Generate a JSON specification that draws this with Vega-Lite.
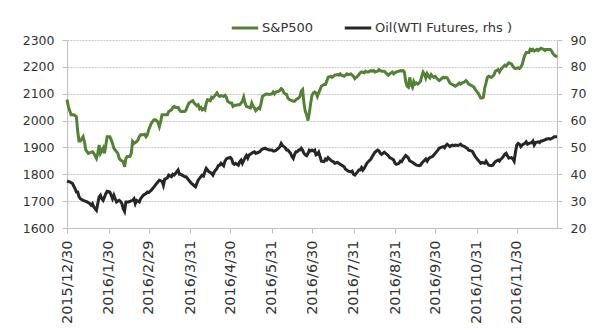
{
  "$schema": "https://vega.github.io/schema/vega-lite/v6.json",
  "width": 490,
  "height": 188,
  "autosize": {"type": "none"},
  "padding": {"left": 67, "top": 40, "right": 45, "bottom": 104},
  "config": {
    "view": {"stroke": null},
    "font": "DejaVu Sans",
    "axis": {
      "domainColor": "#bfbfbf",
      "tickColor": "#bfbfbf",
      "tickSize": 5,
      "labelColor": "#333333",
      "labelFont": "DejaVu Sans",
      "labelFontSize": 12.5,
      "title": null,
      "labelPadding": 4
    }
  },
  "datasets": {
    "spx": [
      {"date": "2015/12/30", "value": 2078}, {"date": "2015/12/31", "value": 2053}, {"date": "2016/1/2", "value": 2022}, {"date": "2016/1/4", "value": 2022}, {"date": "2016/1/6", "value": 2015}, {"date": "2016/1/7", "value": 1959}, {"date": "2016/1/8", "value": 1924}, {"date": "2016/1/9", "value": 1924}, {"date": "2016/1/11", "value": 1940}, {"date": "2016/1/12", "value": 1922}, {"date": "2016/1/13", "value": 1891}, {"date": "2016/1/15", "value": 1878}, {"date": "2016/1/18", "value": 1884}, {"date": "2016/1/19", "value": 1878}, {"date": "2016/1/21", "value": 1859}, {"date": "2016/1/22", "value": 1878}, {"date": "2016/1/23", "value": 1909}, {"date": "2016/1/24", "value": 1878}, {"date": "2016/1/26", "value": 1897}, {"date": "2016/1/27", "value": 1878}, {"date": "2016/1/28", "value": 1909}, {"date": "2016/1/29", "value": 1940}, {"date": "2016/1/31", "value": 1940},
      {"date": "2016/2/1", "value": 1928}, {"date": "2016/2/2", "value": 1915}, {"date": "2016/2/3", "value": 1897}, {"date": "2016/2/5", "value": 1884}, {"date": "2016/2/6", "value": 1878}, {"date": "2016/2/7", "value": 1859}, {"date": "2016/2/8", "value": 1853}, {"date": "2016/2/10", "value": 1847}, {"date": "2016/2/11", "value": 1828}, {"date": "2016/2/12", "value": 1859}, {"date": "2016/2/13", "value": 1866}, {"date": "2016/2/15", "value": 1866}, {"date": "2016/2/16", "value": 1878}, {"date": "2016/2/17", "value": 1922}, {"date": "2016/2/18", "value": 1915}, {"date": "2016/2/20", "value": 1922}, {"date": "2016/2/21", "value": 1928}, {"date": "2016/2/22", "value": 1940}, {"date": "2016/2/23", "value": 1947}, {"date": "2016/2/25", "value": 1947}, {"date": "2016/2/26", "value": 1949}, {"date": "2016/2/27", "value": 1940}, {"date": "2016/2/28", "value": 1947}, {"date": "2016/2/29", "value": 1965},
      {"date": "2016/3/2", "value": 1990}, {"date": "2016/3/3", "value": 1997}, {"date": "2016/3/4", "value": 2003}, {"date": "2016/3/5", "value": 2003}, {"date": "2016/3/7", "value": 1994}, {"date": "2016/3/8", "value": 1978}, {"date": "2016/3/9", "value": 1997}, {"date": "2016/3/10", "value": 2022}, {"date": "2016/3/12", "value": 2022}, {"date": "2016/3/13", "value": 2022}, {"date": "2016/3/14", "value": 2022}, {"date": "2016/3/15", "value": 2034}, {"date": "2016/3/17", "value": 2040}, {"date": "2016/3/18", "value": 2049}, {"date": "2016/3/19", "value": 2053}, {"date": "2016/3/20", "value": 2049}, {"date": "2016/3/22", "value": 2049}, {"date": "2016/3/23", "value": 2040}, {"date": "2016/3/24", "value": 2034}, {"date": "2016/3/25", "value": 2034}, {"date": "2016/3/27", "value": 2034}, {"date": "2016/3/28", "value": 2040}, {"date": "2016/3/29", "value": 2053}, {"date": "2016/3/30", "value": 2065},
      {"date": "2016/4/1", "value": 2072}, {"date": "2016/4/2", "value": 2074}, {"date": "2016/4/3", "value": 2065}, {"date": "2016/4/5", "value": 2055}, {"date": "2016/4/6", "value": 2059}, {"date": "2016/4/7", "value": 2044}, {"date": "2016/4/8", "value": 2049}, {"date": "2016/4/9", "value": 2040}, {"date": "2016/4/10", "value": 2044}, {"date": "2016/4/11", "value": 2040}, {"date": "2016/4/12", "value": 2065}, {"date": "2016/4/13", "value": 2078}, {"date": "2016/4/15", "value": 2074}, {"date": "2016/4/16", "value": 2087}, {"date": "2016/4/17", "value": 2084}, {"date": "2016/4/18", "value": 2090}, {"date": "2016/4/20", "value": 2103}, {"date": "2016/4/21", "value": 2094}, {"date": "2016/4/22", "value": 2090}, {"date": "2016/4/23", "value": 2093}, {"date": "2016/4/25", "value": 2090}, {"date": "2016/4/26", "value": 2094}, {"date": "2016/4/27", "value": 2087}, {"date": "2016/4/28", "value": 2072}, {"date": "2016/4/30", "value": 2065},
      {"date": "2016/5/1", "value": 2065}, {"date": "2016/5/2", "value": 2053}, {"date": "2016/5/3", "value": 2057}, {"date": "2016/5/4", "value": 2057}, {"date": "2016/5/6", "value": 2059}, {"date": "2016/5/7", "value": 2059}, {"date": "2016/5/8", "value": 2065}, {"date": "2016/5/9", "value": 2072}, {"date": "2016/5/10", "value": 2087}, {"date": "2016/5/11", "value": 2065}, {"date": "2016/5/12", "value": 2053}, {"date": "2016/5/14", "value": 2049}, {"date": "2016/5/15", "value": 2047}, {"date": "2016/5/16", "value": 2065}, {"date": "2016/5/17", "value": 2053}, {"date": "2016/5/18", "value": 2047}, {"date": "2016/5/19", "value": 2037}, {"date": "2016/5/21", "value": 2047}, {"date": "2016/5/22", "value": 2044}, {"date": "2016/5/23", "value": 2065}, {"date": "2016/5/24", "value": 2090}, {"date": "2016/5/26", "value": 2097}, {"date": "2016/5/27", "value": 2099}, {"date": "2016/5/28", "value": 2099}, {"date": "2016/5/29", "value": 2097}, {"date": "2016/5/31", "value": 2099},
      {"date": "2016/6/1", "value": 2106}, {"date": "2016/6/2", "value": 2099}, {"date": "2016/6/3", "value": 2106}, {"date": "2016/6/5", "value": 2109}, {"date": "2016/6/6", "value": 2112}, {"date": "2016/6/7", "value": 2119}, {"date": "2016/6/8", "value": 2115}, {"date": "2016/6/9", "value": 2103}, {"date": "2016/6/10", "value": 2099}, {"date": "2016/6/11", "value": 2097}, {"date": "2016/6/12", "value": 2084}, {"date": "2016/6/13", "value": 2078}, {"date": "2016/6/15", "value": 2074}, {"date": "2016/6/16", "value": 2072}, {"date": "2016/6/17", "value": 2072}, {"date": "2016/6/18", "value": 2078}, {"date": "2016/6/20", "value": 2084}, {"date": "2016/6/21", "value": 2090}, {"date": "2016/6/22", "value": 2109}, {"date": "2016/6/23", "value": 2115}, {"date": "2016/6/24", "value": 2065}, {"date": "2016/6/25", "value": 2034}, {"date": "2016/6/26", "value": 2022}, {"date": "2016/6/27", "value": 2000}, {"date": "2016/6/28", "value": 2028}, {"date": "2016/6/29", "value": 2065}, {"date": "2016/6/30", "value": 2094},
      {"date": "2016/7/1", "value": 2103}, {"date": "2016/7/2", "value": 2106}, {"date": "2016/7/3", "value": 2103}, {"date": "2016/7/4", "value": 2090}, {"date": "2016/7/5", "value": 2103}, {"date": "2016/7/6", "value": 2115}, {"date": "2016/7/7", "value": 2128}, {"date": "2016/7/9", "value": 2134}, {"date": "2016/7/10", "value": 2134}, {"date": "2016/7/11", "value": 2146}, {"date": "2016/7/12", "value": 2161}, {"date": "2016/7/14", "value": 2165}, {"date": "2016/7/15", "value": 2161}, {"date": "2016/7/16", "value": 2165}, {"date": "2016/7/17", "value": 2169}, {"date": "2016/7/19", "value": 2171}, {"date": "2016/7/20", "value": 2169}, {"date": "2016/7/21", "value": 2174}, {"date": "2016/7/22", "value": 2169}, {"date": "2016/7/24", "value": 2165}, {"date": "2016/7/25", "value": 2169}, {"date": "2016/7/26", "value": 2174}, {"date": "2016/7/27", "value": 2171}, {"date": "2016/7/29", "value": 2174}, {"date": "2016/7/30", "value": 2169}, {"date": "2016/7/31", "value": 2165},
      {"date": "2016/8/1", "value": 2156}, {"date": "2016/8/3", "value": 2165}, {"date": "2016/8/4", "value": 2171}, {"date": "2016/8/5", "value": 2178}, {"date": "2016/8/6", "value": 2181}, {"date": "2016/8/8", "value": 2178}, {"date": "2016/8/9", "value": 2184}, {"date": "2016/8/10", "value": 2181}, {"date": "2016/8/11", "value": 2181}, {"date": "2016/8/13", "value": 2186}, {"date": "2016/8/14", "value": 2184}, {"date": "2016/8/15", "value": 2186}, {"date": "2016/8/16", "value": 2181}, {"date": "2016/8/18", "value": 2184}, {"date": "2016/8/19", "value": 2190}, {"date": "2016/8/20", "value": 2186}, {"date": "2016/8/21", "value": 2184}, {"date": "2016/8/23", "value": 2184}, {"date": "2016/8/24", "value": 2178}, {"date": "2016/8/25", "value": 2174}, {"date": "2016/8/26", "value": 2169}, {"date": "2016/8/27", "value": 2174}, {"date": "2016/8/29", "value": 2181}, {"date": "2016/8/30", "value": 2174}, {"date": "2016/8/31", "value": 2178},
      {"date": "2016/9/1", "value": 2181}, {"date": "2016/9/3", "value": 2184}, {"date": "2016/9/4", "value": 2186}, {"date": "2016/9/5", "value": 2184}, {"date": "2016/9/6", "value": 2186}, {"date": "2016/9/7", "value": 2181}, {"date": "2016/9/8", "value": 2146}, {"date": "2016/9/9", "value": 2128}, {"date": "2016/9/10", "value": 2124}, {"date": "2016/9/11", "value": 2161}, {"date": "2016/9/12", "value": 2134}, {"date": "2016/9/13", "value": 2124}, {"date": "2016/9/14", "value": 2146}, {"date": "2016/9/15", "value": 2136}, {"date": "2016/9/16", "value": 2140}, {"date": "2016/9/17", "value": 2136}, {"date": "2016/9/18", "value": 2140}, {"date": "2016/9/19", "value": 2146}, {"date": "2016/9/20", "value": 2165}, {"date": "2016/9/21", "value": 2181}, {"date": "2016/9/22", "value": 2174}, {"date": "2016/9/23", "value": 2159}, {"date": "2016/9/24", "value": 2174}, {"date": "2016/9/25", "value": 2165}, {"date": "2016/9/26", "value": 2159}, {"date": "2016/9/27", "value": 2171}, {"date": "2016/9/28", "value": 2165}, {"date": "2016/9/29", "value": 2161}, {"date": "2016/9/30", "value": 2165},
      {"date": "2016/10/1", "value": 2159}, {"date": "2016/10/2", "value": 2153}, {"date": "2016/10/3", "value": 2149}, {"date": "2016/10/4", "value": 2153}, {"date": "2016/10/6", "value": 2161}, {"date": "2016/10/7", "value": 2159}, {"date": "2016/10/8", "value": 2161}, {"date": "2016/10/9", "value": 2159}, {"date": "2016/10/11", "value": 2140}, {"date": "2016/10/12", "value": 2136}, {"date": "2016/10/13", "value": 2134}, {"date": "2016/10/14", "value": 2131}, {"date": "2016/10/15", "value": 2128}, {"date": "2016/10/17", "value": 2134}, {"date": "2016/10/18", "value": 2140}, {"date": "2016/10/19", "value": 2136}, {"date": "2016/10/20", "value": 2140}, {"date": "2016/10/22", "value": 2144}, {"date": "2016/10/23", "value": 2149}, {"date": "2016/10/24", "value": 2144}, {"date": "2016/10/25", "value": 2136}, {"date": "2016/10/27", "value": 2131}, {"date": "2016/10/28", "value": 2128}, {"date": "2016/10/29", "value": 2124}, {"date": "2016/10/30", "value": 2115},
      {"date": "2016/11/1", "value": 2103}, {"date": "2016/11/2", "value": 2094}, {"date": "2016/11/3", "value": 2084}, {"date": "2016/11/4", "value": 2084}, {"date": "2016/11/5", "value": 2087}, {"date": "2016/11/6", "value": 2121}, {"date": "2016/11/7", "value": 2140}, {"date": "2016/11/8", "value": 2161}, {"date": "2016/11/9", "value": 2165}, {"date": "2016/11/11", "value": 2161}, {"date": "2016/11/12", "value": 2165}, {"date": "2016/11/13", "value": 2171}, {"date": "2016/11/14", "value": 2184}, {"date": "2016/11/16", "value": 2190}, {"date": "2016/11/17", "value": 2181}, {"date": "2016/11/18", "value": 2190}, {"date": "2016/11/19", "value": 2196}, {"date": "2016/11/21", "value": 2206}, {"date": "2016/11/22", "value": 2203}, {"date": "2016/11/23", "value": 2209}, {"date": "2016/11/24", "value": 2215}, {"date": "2016/11/26", "value": 2211}, {"date": "2016/11/27", "value": 2203}, {"date": "2016/11/28", "value": 2196}, {"date": "2016/11/29", "value": 2194},
      {"date": "2016/12/1", "value": 2196}, {"date": "2016/12/2", "value": 2194}, {"date": "2016/12/3", "value": 2199}, {"date": "2016/12/4", "value": 2209}, {"date": "2016/12/5", "value": 2228}, {"date": "2016/12/6", "value": 2244}, {"date": "2016/12/7", "value": 2253}, {"date": "2016/12/9", "value": 2253}, {"date": "2016/12/10", "value": 2265}, {"date": "2016/12/11", "value": 2261}, {"date": "2016/12/12", "value": 2265}, {"date": "2016/12/13", "value": 2259}, {"date": "2016/12/15", "value": 2265}, {"date": "2016/12/16", "value": 2261}, {"date": "2016/12/17", "value": 2265}, {"date": "2016/12/18", "value": 2269}, {"date": "2016/12/20", "value": 2265}, {"date": "2016/12/21", "value": 2261}, {"date": "2016/12/22", "value": 2265}, {"date": "2016/12/23", "value": 2265}, {"date": "2016/12/25", "value": 2265}, {"date": "2016/12/26", "value": 2259}, {"date": "2016/12/27", "value": 2249}, {"date": "2016/12/28", "value": 2244}, {"date": "2016/12/30", "value": 2236}
    ],
    "oil": [
      {"date": "2015/12/30", "value": 37.4}, {"date": "2016/1/1", "value": 37.2}, {"date": "2016/1/3", "value": 36.6}, {"date": "2016/1/5", "value": 34.7}, {"date": "2016/1/6", "value": 33.4}, {"date": "2016/1/7", "value": 33.4}, {"date": "2016/1/8", "value": 31.6}, {"date": "2016/1/9", "value": 30.9}, {"date": "2016/1/11", "value": 30.3}, {"date": "2016/1/13", "value": 29.9}, {"date": "2016/1/14", "value": 29.7}, {"date": "2016/1/16", "value": 29.1}, {"date": "2016/1/17", "value": 28.5}, {"date": "2016/1/18", "value": 29.1}, {"date": "2016/1/19", "value": 27.8}, {"date": "2016/1/21", "value": 26.6}, {"date": "2016/1/22", "value": 29.1}, {"date": "2016/1/23", "value": 31.6}, {"date": "2016/1/24", "value": 32.2}, {"date": "2016/1/25", "value": 30.9}, {"date": "2016/1/26", "value": 30.3}, {"date": "2016/1/28", "value": 32.8}, {"date": "2016/1/29", "value": 33.7}, {"date": "2016/1/31", "value": 33.4},
      {"date": "2016/2/1", "value": 32.2}, {"date": "2016/2/2", "value": 30.9}, {"date": "2016/2/3", "value": 32.2}, {"date": "2016/2/4", "value": 30.9}, {"date": "2016/2/5", "value": 29.7}, {"date": "2016/2/7", "value": 30.3}, {"date": "2016/2/8", "value": 29.9}, {"date": "2016/2/9", "value": 29.1}, {"date": "2016/2/10", "value": 27.2}, {"date": "2016/2/11", "value": 26.2}, {"date": "2016/2/12", "value": 29.7}, {"date": "2016/2/14", "value": 29.7}, {"date": "2016/2/15", "value": 29.9}, {"date": "2016/2/17", "value": 30.3}, {"date": "2016/2/18", "value": 30.9}, {"date": "2016/2/19", "value": 29.1}, {"date": "2016/2/20", "value": 30.3}, {"date": "2016/2/22", "value": 29.7}, {"date": "2016/2/23", "value": 30.9}, {"date": "2016/2/24", "value": 31.6}, {"date": "2016/2/25", "value": 32.2}, {"date": "2016/2/27", "value": 32.8}, {"date": "2016/2/28", "value": 33.4}, {"date": "2016/2/29", "value": 33.2},
      {"date": "2016/3/2", "value": 34.1}, {"date": "2016/3/3", "value": 34.7}, {"date": "2016/3/4", "value": 35.3}, {"date": "2016/3/6", "value": 36.6}, {"date": "2016/3/7", "value": 37.2}, {"date": "2016/3/8", "value": 37.8}, {"date": "2016/3/10", "value": 37.4}, {"date": "2016/3/11", "value": 35.9}, {"date": "2016/3/12", "value": 38.2}, {"date": "2016/3/13", "value": 38.4}, {"date": "2016/3/14", "value": 38.7}, {"date": "2016/3/15", "value": 39.7}, {"date": "2016/3/17", "value": 39.1}, {"date": "2016/3/18", "value": 40}, {"date": "2016/3/19", "value": 39.7}, {"date": "2016/3/20", "value": 40.3}, {"date": "2016/3/22", "value": 41.6}, {"date": "2016/3/23", "value": 40}, {"date": "2016/3/24", "value": 40}, {"date": "2016/3/25", "value": 39.7}, {"date": "2016/3/27", "value": 39.1}, {"date": "2016/3/28", "value": 39.1}, {"date": "2016/3/29", "value": 38.4}, {"date": "2016/3/30", "value": 37.8},
      {"date": "2016/4/1", "value": 36.6}, {"date": "2016/4/2", "value": 36.2}, {"date": "2016/4/3", "value": 35.7}, {"date": "2016/4/4", "value": 35.3}, {"date": "2016/4/5", "value": 36.6}, {"date": "2016/4/6", "value": 37.8}, {"date": "2016/4/8", "value": 39.1}, {"date": "2016/4/9", "value": 39.7}, {"date": "2016/4/10", "value": 39.4}, {"date": "2016/4/11", "value": 40.9}, {"date": "2016/4/12", "value": 42.2}, {"date": "2016/4/13", "value": 41.6}, {"date": "2016/4/14", "value": 40.9}, {"date": "2016/4/15", "value": 40.7}, {"date": "2016/4/16", "value": 40.3}, {"date": "2016/4/17", "value": 39.7}, {"date": "2016/4/18", "value": 40.9}, {"date": "2016/4/20", "value": 42.2}, {"date": "2016/4/21", "value": 43.2}, {"date": "2016/4/22", "value": 43.4}, {"date": "2016/4/23", "value": 44.1}, {"date": "2016/4/25", "value": 43.2}, {"date": "2016/4/26", "value": 44.9}, {"date": "2016/4/27", "value": 45.7}, {"date": "2016/4/28", "value": 46}, {"date": "2016/4/30", "value": 46.3},
      {"date": "2016/5/1", "value": 45.7}, {"date": "2016/5/2", "value": 44.1}, {"date": "2016/5/3", "value": 43.7}, {"date": "2016/5/4", "value": 44.1}, {"date": "2016/5/6", "value": 43.4}, {"date": "2016/5/7", "value": 44.7}, {"date": "2016/5/8", "value": 45.3}, {"date": "2016/5/9", "value": 44.1}, {"date": "2016/5/11", "value": 46.2}, {"date": "2016/5/12", "value": 47}, {"date": "2016/5/13", "value": 46}, {"date": "2016/5/14", "value": 47.2}, {"date": "2016/5/16", "value": 47.8}, {"date": "2016/5/17", "value": 48.2}, {"date": "2016/5/18", "value": 48.4}, {"date": "2016/5/19", "value": 47.8}, {"date": "2016/5/21", "value": 48.2}, {"date": "2016/5/22", "value": 48.4}, {"date": "2016/5/23", "value": 49}, {"date": "2016/5/24", "value": 49.4}, {"date": "2016/5/26", "value": 49.7}, {"date": "2016/5/27", "value": 49.4}, {"date": "2016/5/28", "value": 49.3}, {"date": "2016/5/29", "value": 49}, {"date": "2016/5/31", "value": 49},
      {"date": "2016/6/1", "value": 48.7}, {"date": "2016/6/2", "value": 48.7}, {"date": "2016/6/3", "value": 48.9}, {"date": "2016/6/5", "value": 49.7}, {"date": "2016/6/6", "value": 50.3}, {"date": "2016/6/7", "value": 51.5}, {"date": "2016/6/8", "value": 50.7}, {"date": "2016/6/10", "value": 49.9}, {"date": "2016/6/11", "value": 49}, {"date": "2016/6/12", "value": 49}, {"date": "2016/6/13", "value": 48.4}, {"date": "2016/6/14", "value": 47.8}, {"date": "2016/6/15", "value": 46.6}, {"date": "2016/6/16", "value": 45.9}, {"date": "2016/6/17", "value": 47.4}, {"date": "2016/6/18", "value": 48.4}, {"date": "2016/6/19", "value": 48.4}, {"date": "2016/6/20", "value": 49}, {"date": "2016/6/21", "value": 49}, {"date": "2016/6/22", "value": 49.7}, {"date": "2016/6/23", "value": 49}, {"date": "2016/6/24", "value": 47.8}, {"date": "2016/6/25", "value": 47.2}, {"date": "2016/6/26", "value": 46.9}, {"date": "2016/6/27", "value": 47.8}, {"date": "2016/6/28", "value": 49}, {"date": "2016/6/29", "value": 48.7}, {"date": "2016/6/30", "value": 49},
      {"date": "2016/7/1", "value": 48.7}, {"date": "2016/7/2", "value": 49}, {"date": "2016/7/3", "value": 47.2}, {"date": "2016/7/4", "value": 47.4}, {"date": "2016/7/5", "value": 48.2}, {"date": "2016/7/6", "value": 46.6}, {"date": "2016/7/7", "value": 44.9}, {"date": "2016/7/9", "value": 44.7}, {"date": "2016/7/10", "value": 45.7}, {"date": "2016/7/11", "value": 45.3}, {"date": "2016/7/12", "value": 46.2}, {"date": "2016/7/14", "value": 45.3}, {"date": "2016/7/15", "value": 44.9}, {"date": "2016/7/16", "value": 44.7}, {"date": "2016/7/17", "value": 44.1}, {"date": "2016/7/19", "value": 44.4}, {"date": "2016/7/20", "value": 44.1}, {"date": "2016/7/21", "value": 43.7}, {"date": "2016/7/22", "value": 43.4}, {"date": "2016/7/24", "value": 42.8}, {"date": "2016/7/25", "value": 41.9}, {"date": "2016/7/26", "value": 41.6}, {"date": "2016/7/27", "value": 41.2}, {"date": "2016/7/29", "value": 40.9}, {"date": "2016/7/30", "value": 41.2}, {"date": "2016/7/31", "value": 40},
      {"date": "2016/8/1", "value": 39.7}, {"date": "2016/8/3", "value": 40.9}, {"date": "2016/8/4", "value": 41.6}, {"date": "2016/8/5", "value": 41.6}, {"date": "2016/8/6", "value": 42.5}, {"date": "2016/8/7", "value": 41.6}, {"date": "2016/8/8", "value": 42.2}, {"date": "2016/8/9", "value": 43.2}, {"date": "2016/8/10", "value": 44.1}, {"date": "2016/8/11", "value": 44.7}, {"date": "2016/8/13", "value": 45.7}, {"date": "2016/8/14", "value": 46.6}, {"date": "2016/8/15", "value": 47.4}, {"date": "2016/8/16", "value": 48.2}, {"date": "2016/8/18", "value": 49}, {"date": "2016/8/19", "value": 48.7}, {"date": "2016/8/20", "value": 47.8}, {"date": "2016/8/21", "value": 47.4}, {"date": "2016/8/23", "value": 48.2}, {"date": "2016/8/24", "value": 47.8}, {"date": "2016/8/25", "value": 47.4}, {"date": "2016/8/26", "value": 46.9}, {"date": "2016/8/27", "value": 46.2}, {"date": "2016/8/29", "value": 45.7}, {"date": "2016/8/30", "value": 45.3}, {"date": "2016/8/31", "value": 44.1},
      {"date": "2016/9/1", "value": 43.7}, {"date": "2016/9/3", "value": 44.1}, {"date": "2016/9/4", "value": 44.9}, {"date": "2016/9/5", "value": 44.7}, {"date": "2016/9/6", "value": 45.7}, {"date": "2016/9/8", "value": 47}, {"date": "2016/9/9", "value": 46.6}, {"date": "2016/9/10", "value": 46}, {"date": "2016/9/11", "value": 45}, {"date": "2016/9/13", "value": 44.5}, {"date": "2016/9/14", "value": 44.1}, {"date": "2016/9/15", "value": 43.7}, {"date": "2016/9/16", "value": 43.4}, {"date": "2016/9/18", "value": 43.2}, {"date": "2016/9/19", "value": 43.4}, {"date": "2016/9/20", "value": 44.1}, {"date": "2016/9/21", "value": 44.7}, {"date": "2016/9/23", "value": 45.7}, {"date": "2016/9/24", "value": 44.9}, {"date": "2016/9/25", "value": 45.7}, {"date": "2016/9/26", "value": 46.2}, {"date": "2016/9/28", "value": 46.6}, {"date": "2016/9/29", "value": 47.2}, {"date": "2016/9/30", "value": 47.8},
      {"date": "2016/10/2", "value": 49}, {"date": "2016/10/3", "value": 49.7}, {"date": "2016/10/4", "value": 49.9}, {"date": "2016/10/6", "value": 50.3}, {"date": "2016/10/7", "value": 49.9}, {"date": "2016/10/8", "value": 50.7}, {"date": "2016/10/9", "value": 51.2}, {"date": "2016/10/11", "value": 50.3}, {"date": "2016/10/12", "value": 50.7}, {"date": "2016/10/13", "value": 50.9}, {"date": "2016/10/14", "value": 50.7}, {"date": "2016/10/15", "value": 50.9}, {"date": "2016/10/17", "value": 50.7}, {"date": "2016/10/18", "value": 50.9}, {"date": "2016/10/19", "value": 51.2}, {"date": "2016/10/20", "value": 50.7}, {"date": "2016/10/22", "value": 50.3}, {"date": "2016/10/23", "value": 49.9}, {"date": "2016/10/24", "value": 49.7}, {"date": "2016/10/25", "value": 49}, {"date": "2016/10/27", "value": 48.7}, {"date": "2016/10/28", "value": 48.4}, {"date": "2016/10/29", "value": 47.4}, {"date": "2016/10/30", "value": 46.6},
      {"date": "2016/11/1", "value": 45.3}, {"date": "2016/11/2", "value": 44.7}, {"date": "2016/11/3", "value": 44.1}, {"date": "2016/11/4", "value": 44.4}, {"date": "2016/11/6", "value": 44.1}, {"date": "2016/11/7", "value": 44.9}, {"date": "2016/11/8", "value": 44.1}, {"date": "2016/11/9", "value": 43.4}, {"date": "2016/11/11", "value": 43.2}, {"date": "2016/11/12", "value": 43.4}, {"date": "2016/11/13", "value": 44.1}, {"date": "2016/11/14", "value": 44.7}, {"date": "2016/11/16", "value": 45.3}, {"date": "2016/11/17", "value": 44.9}, {"date": "2016/11/18", "value": 45.7}, {"date": "2016/11/19", "value": 46}, {"date": "2016/11/21", "value": 47.4}, {"date": "2016/11/22", "value": 47.8}, {"date": "2016/11/23", "value": 46.9}, {"date": "2016/11/24", "value": 46}, {"date": "2016/11/26", "value": 46.2}, {"date": "2016/11/27", "value": 45.7}, {"date": "2016/11/28", "value": 44.9}, {"date": "2016/11/29", "value": 48.4}, {"date": "2016/11/30", "value": 50.9},
      {"date": "2016/12/1", "value": 51.5}, {"date": "2016/12/2", "value": 51.2}, {"date": "2016/12/3", "value": 50.3}, {"date": "2016/12/4", "value": 50.9}, {"date": "2016/12/6", "value": 51.5}, {"date": "2016/12/7", "value": 52.1}, {"date": "2016/12/8", "value": 51.2}, {"date": "2016/12/9", "value": 51.5}, {"date": "2016/12/11", "value": 51.8}, {"date": "2016/12/12", "value": 52.4}, {"date": "2016/12/13", "value": 50.9}, {"date": "2016/12/14", "value": 51.8}, {"date": "2016/12/16", "value": 52.1}, {"date": "2016/12/17", "value": 51.8}, {"date": "2016/12/18", "value": 52.4}, {"date": "2016/12/19", "value": 52.4}, {"date": "2016/12/21", "value": 52.8}, {"date": "2016/12/22", "value": 53.1}, {"date": "2016/12/23", "value": 53.1}, {"date": "2016/12/24", "value": 53.3}, {"date": "2016/12/25", "value": 53.1}, {"date": "2016/12/27", "value": 53.6}, {"date": "2016/12/28", "value": 54}, {"date": "2016/12/30", "value": 54}
    ]
  },
  "layer": [
    {
      "data": {"name": "spx"},
      "mark": {"type": "line", "strokeWidth": 3},
      "encoding": {
        "x": {
          "field": "date",
          "type": "temporal",
          "scale": {"domain": [{"year": 2015, "month": 12, "date": 30}, {"year": 2016, "month": 12, "date": 30}]},
          "axis": {
            "values": [
              {"year": 2015, "month": 12, "date": 30}, {"year": 2016, "month": 1, "date": 30}, {"year": 2016, "month": 2, "date": 29}, {"year": 2016, "month": 3, "date": 31}, {"year": 2016, "month": 4, "date": 30}, {"year": 2016, "month": 5, "date": 31}, {"year": 2016, "month": 6, "date": 30}, {"year": 2016, "month": 7, "date": 31}, {"year": 2016, "month": 8, "date": 31}, {"year": 2016, "month": 9, "date": 30}, {"year": 2016, "month": 10, "date": 31}, {"year": 2016, "month": 11, "date": 30}
            ],
            "format": "%Y/%-m/%-d",
            "labelAngle": 270,
            "labelAlign": "right",
            "labelBaseline": "middle",
            "labelFontSize": 14.5,
            "labelPadding": 7,
            "labelOverlap": false,
            "labelFlush": false,
            "grid": false
          }
        },
        "y": {
          "field": "value",
          "type": "quantitative",
          "scale": {"domain": [1600, 2300], "nice": false, "zero": false},
          "axis": {
            "orient": "left",
            "values": [1600, 1700, 1800, 1900, 2000, 2100, 2200, 2300],
            "format": "d",
            "grid": true,
            "gridColor": "#c8c8c8",
            "gridDash": [2, 1],
            "labelPadding": 8
          }
        },
        "color": {
          "datum": "S&P500",
          "type": "nominal",
          "scale": {"domain": ["S&P500", "Oil(WTI Futures, rhs )"], "range": ["#548235", "#262626"]},
          "legend": {
            "title": null,
            "orient": "none",
            "legendX": 163,
            "legendY": -27,
            "direction": "horizontal",
            "symbolType": "stroke",
            "symbolSize": 700,
            "symbolStrokeWidth": 3,
            "labelFontSize": 13,
            "labelColor": "#333333",
            "labelOffset": 2,
            "columnPadding": 24
          }
        }
      }
    },
    {
      "data": {"name": "oil"},
      "mark": {"type": "line", "strokeWidth": 3},
      "encoding": {
        "x": {"field": "date", "type": "temporal"},
        "y": {
          "field": "value",
          "type": "quantitative",
          "scale": {"domain": [20, 90], "nice": false, "zero": false},
          "axis": {
            "orient": "right",
            "values": [20, 30, 40, 50, 60, 70, 80, 90],
            "format": "d",
            "grid": false,
            "labelPadding": 8
          }
        },
        "color": {"datum": "Oil(WTI Futures, rhs )", "type": "nominal"}
      }
    }
  ],
  "resolve": {"scale": {"y": "independent"}}
}
